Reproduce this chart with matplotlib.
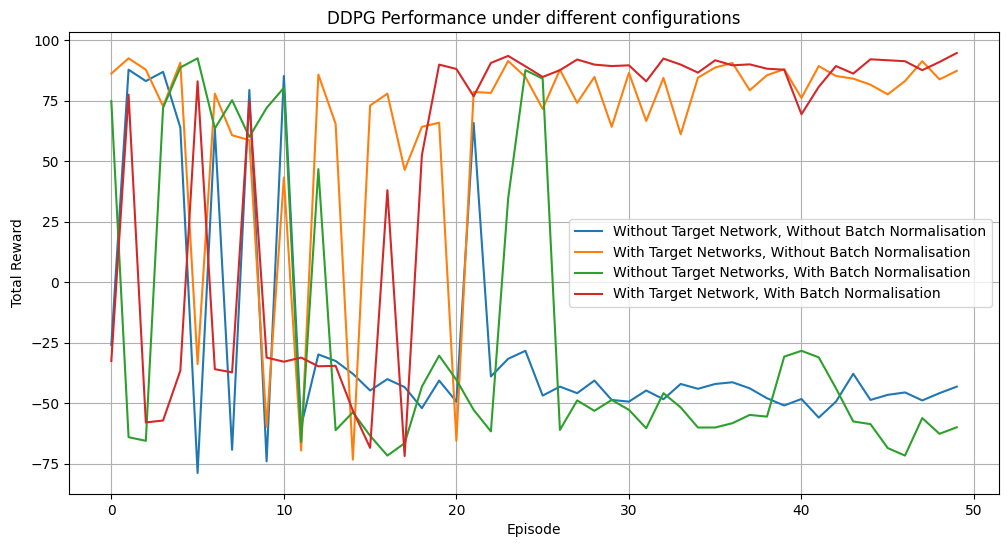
# DDPG reward curves for the four target network / batch norm configurations.
import matplotlib
matplotlib.use('Agg')
import matplotlib.pyplot as plt
import numpy as np

episodes = np.arange(50)

no_target_no_bn = [-25.9, 87.9, 83.2, 87.0, 64.0, -78.8, 63.5, -69.2, 79.5, -74.0,
                   85.3, -59.5, -29.8, -32.5, -37.8, -44.7, -40.0, -43.3, -52.0, -40.6,
                   -49.3, 65.9, -38.9, -31.6, -28.3, -46.8, -43.1, -45.8, -40.6, -48.6,
                   -49.3, -44.7, -48.3, -42.0, -44.0, -42.0, -41.3, -43.8, -47.9, -50.9,
                   -48.2, -55.9, -49.3, -37.8, -48.6, -46.5, -45.5, -48.8, -45.8, -43.1]

target_no_bn = [86.3, 92.6, 87.9, 72.8, 90.8, -33.8, 78.0, 60.8, 58.8, -59.7,
                43.3, -69.5, 85.9, 65.5, -73.3, 73.1, 78.0, 46.5, 64.3, 66.0,
                -65.5, 78.7, 78.3, 91.5, 84.9, 71.7, 87.9, 74.2, 84.9, 64.3,
                86.6, 66.7, 84.5, 61.2, 84.6, 88.8, 90.7, 79.4, 85.6, 88.1,
                76.2, 89.4, 85.3, 84.2, 81.7, 77.7, 83.2, 91.4, 83.9, 87.4]

no_target_bn = [74.9, -64.0, -65.5, 72.2, 88.8, 92.6, 63.6, 75.3, 60.1, 72.1,
                80.4, -66.0, 46.8, -61.1, -53.7, -63.4, -71.6, -66.5, -43.1, -30.3,
                -40.3, -52.7, -61.6, 34.7, 87.7, 84.2, -61.0, -48.8, -53.1, -48.6,
                -52.7, -60.3, -45.8, -51.7, -60.0, -60.0, -58.2, -54.8, -55.5, -30.7,
                -28.3, -31.0, -43.8, -57.5, -58.6, -68.5, -71.6, -56.1, -62.6, -59.9]

target_bn = [-32.5, 77.6, -57.9, -57.1, -36.5, 83.1, -35.9, -37.2, 74.9, -31.1,
             -32.8, -31.1, -34.7, -34.5, -53.0, -68.4, 38.1, -71.8, 52.6, 90.0,
             88.2, 76.9, 90.7, 93.6, 89.3, 84.9, 87.7, 92.1, 90.0, 89.4,
             89.7, 83.1, 92.5, 90.0, 86.7, 91.8, 89.7, 90.1, 88.3, 87.9,
             69.5, 80.8, 89.4, 86.3, 92.2, 91.8, 91.4, 87.7, 91.1, 94.8]

labels = ['Without Target Network, Without Batch Normalisation',
          'With Target Networks, Without Batch Normalisation',
          'Without Target Networks, With Batch Normalisation',
          'With Target Network, With Batch Normalisation']

fig = plt.figure(figsize=(10.08, 5.47), dpi=100)
ax = fig.add_axes([0.0685, 0.0969, 0.9226, 0.8446])

for series, label in zip([no_target_no_bn, target_no_bn, no_target_bn, target_bn], labels):
    ax.plot(episodes, series, label=label)

ax.set_title('DDPG Performance under different configurations')
ax.set_xlabel('Episode')
ax.set_ylabel('Total Reward')
ax.grid(True)
ax.legend(loc='center right')

plt.savefig('out.png', dpi=100)
